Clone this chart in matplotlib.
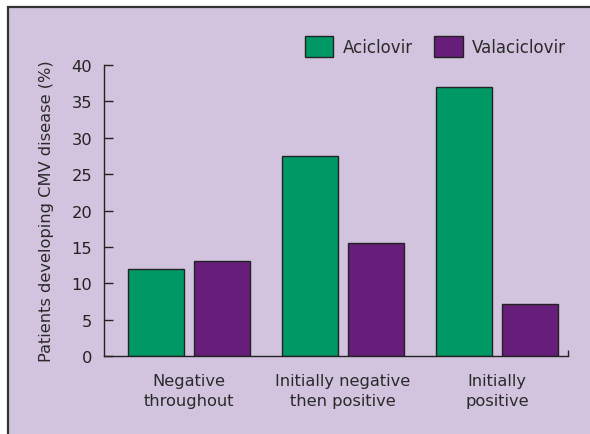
"""
Grouped bar chart: patients developing CMV disease, aciclovir vs valaciclovir.
"""
# %% IMPORTS
import numpy as np
import matplotlib
matplotlib.use("Agg")
import matplotlib.pyplot as plt
from matplotlib.patches import Rectangle, Patch

plt.rcParams.update({'font.size': 11.7, 'font.family': 'DejaVu Sans'})
# %% DATA
categories = ["Negative\nthroughout", "Initially negative\nthen positive", "Initially\npositive"]
aciclovir = [12, 27.5, 37]
valaciclovir = [13, 15.5, 7.2]
series_names = ["Aciclovir", "Valaciclovir"]
yticks = [0, 5, 10, 15, 20, 25, 30, 35, 40]

# colours:
bg_col = "#D2C4DE"
green = "#009966"
purple = "#661E7A"
text_col = "#2a2a2a"
# %% PLOT
W, H = 590, 435
fig = plt.figure(figsize=(W / 100, H / 100), dpi=100)
fig.patch.set_facecolor("white")

# lavender panel with a border on the top and left only showing:
fig.patches.append(Rectangle((8 / W, -0.05), 1.1, 1 - 8 / H + 0.05,
                             transform=fig.transFigure, facecolor=bg_col,
                             edgecolor="#333333", linewidth=1.6, zorder=-10))

ax = fig.add_axes([104 / W, (H - 357) / H, (568 - 104) / W, (357 - 66) / H])
ax.patch.set_visible(False)

x = np.arange(len(categories))
width = 0.364
offset = 0.214
ax.bar(x - offset, aciclovir, width, color=green, edgecolor="#222222", linewidth=1.0)
ax.bar(x + offset, valaciclovir, width, color=purple, edgecolor="#222222", linewidth=1.0)

xmin, xmax = -0.552, 2.461
ax.set_xlim(xmin, xmax)
ax.set_ylim(0, 40)

for s in ["top", "right"]:
    ax.spines[s].set_visible(False)
for s in ["left", "bottom"]:
    ax.spines[s].set_color("#222222")
    ax.spines[s].set_linewidth(1.0)

ax.set_yticks(yticks)
ax.tick_params(axis="y", direction="in", length=6.5, width=1.0, pad=8.5,
               labelsize=11.7, colors="#222222")
ax.set_xticks(x)
ax.set_xticklabels(categories, linespacing=1.43, color=text_col)
ax.tick_params(axis="x", length=0, pad=12, labelsize=11.7)
# small closing tick at the end of the x axis:
ax.set_xticks([xmax], minor=True)
ax.tick_params(axis="x", which="minor", direction="in", length=4.5, width=1.0, colors="#222222")

ax.set_ylabel("Patients developing CMV disease (%)", fontsize=11.7, color=text_col)
ax.yaxis.set_label_coords((54 - 104) / (568 - 104), 0.5)

handles = [Patch(facecolor=green, edgecolor="#222222", linewidth=1.0),
           Patch(facecolor=purple, edgecolor="#222222", linewidth=1.0)]
fig.legend(handles, series_names, loc="center left", ncol=2, frameon=False,
           bbox_to_anchor=(305 / W, 1 - 47.5 / H), borderpad=0, borderaxespad=0,
           handlelength=1.7, handleheight=1.5, handletextpad=0.55,
           columnspacing=1.3, fontsize=12, labelcolor=text_col)

fig.savefig("out.png", dpi=100)
# %% END
